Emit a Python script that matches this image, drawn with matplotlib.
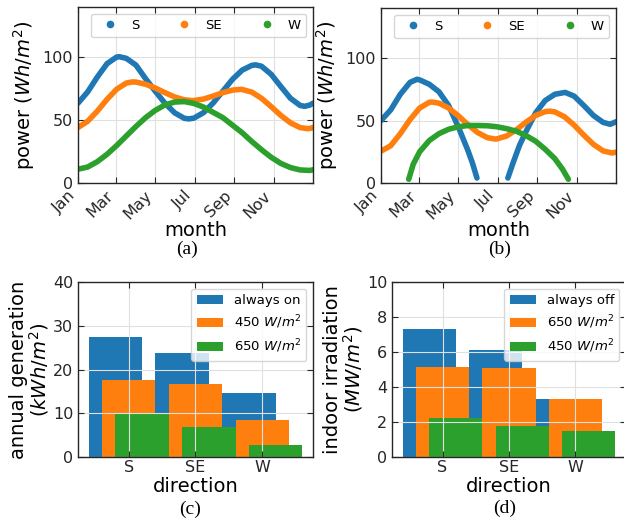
import matplotlib
matplotlib.use('Agg')
import matplotlib.pyplot as plt
from matplotlib.lines import Line2D
import numpy as np

# day of year grid for the curves
days = [0, 15, 30, 45, 60, 75, 90, 105, 120, 135, 150, 165, 180,
        195, 210, 225, 240, 255, 270, 285, 300, 315, 330, 345, 360, 365]

# (a) power per direction
a_S_days = [0, 15, 30, 45, 60, 64, 75, 90, 105, 120, 135, 150, 165, 172, 180, 195, 210,
            225, 240, 255, 270, 276, 285, 300, 315, 330, 345, 352, 360, 365]
a_S = [63.5, 72.5, 84.3, 94.9, 100.2, 100.5, 99.2, 93.8, 83.0, 73.0, 63.5, 55.9, 51.5, 51.0,
       51.6, 56.0, 63.7, 73.1, 82.5, 89.8, 93.6, 94.0, 92.9, 86.5, 76.8, 67.4, 61.7, 61.0,
       62.0, 63.5]
a_SE_days = [0, 15, 30, 45, 60, 75, 84, 90, 105, 120, 135, 150, 165, 177, 180, 195, 210,
             225, 240, 252, 255, 270, 285, 300, 315, 330, 345, 356, 360, 365]
a_SE = [44.2, 49.1, 57.2, 66.5, 74.6, 79.5, 80.4, 80.3, 78.6, 75.6, 71.9, 68.5, 66.2, 65.6,
        65.6, 66.8, 69.2, 71.9, 73.9, 74.5, 74.4, 72.3, 67.4, 60.8, 53.8, 47.9, 44.1, 43.3,
        43.4, 44.2]
a_W = [11.0, 12.7, 17.0, 22.8, 29.8, 37.4, 45.0, 52.0, 57.8, 62.1, 64.4, 64.8, 63.3,
       60.4, 56.2, 52.0, 46.0, 40.0, 33.0, 26.5, 20.5, 15.6, 12.3, 10.4, 10.0, 10.5]

# (b) power per direction (S is cut in summer, W only in the middle)
b_S_days1 = [0, 15, 30, 45, 56, 60, 75, 90, 105, 120, 135, 142, 149]
b_S_vals1 = [50.0, 58.5, 71.0, 80.5, 83.0, 82.5, 79.0, 73.0, 62.0, 45.0, 26.0, 16.0, 4.0]
b_S_days2 = [197, 205, 215, 225, 240, 255, 270, 286, 300, 315, 330, 345, 356, 365]
b_S_vals2 = [4.0, 16.0, 30.0, 41.0, 56.0, 66.0, 71.0, 72.5, 69.5, 62.0, 54.0, 48.5, 47.0, 49.0]
b_SE_days = [0, 15, 30, 45, 60, 75, 79, 90, 105, 120, 135, 150, 165, 177, 180, 195, 210,
             225, 240, 255, 262, 270, 285, 300, 315, 330, 345, 359, 365]
b_SE = [25.5, 29.8, 39.5, 50.7, 60.0, 64.6, 64.8, 63.9, 60.0, 53.8, 46.7, 40.4, 36.3, 35.2,
        35.3, 37.6, 42.5, 48.6, 54.0, 57.1, 57.5, 56.9, 53.0, 46.3, 38.3, 30.9, 25.7, 24.0,
        24.7]
b_W_days = [43, 50, 60, 75, 90, 105, 120, 135, 150, 165, 180, 195, 210, 225, 240, 255, 270, 282, 291]
b_W_vals = [3.0, 15.0, 25.0, 34.0, 39.5, 43.0, 45.0, 46.0, 46.0, 45.8, 45.0, 43.5, 41.5,
            38.0, 33.5, 27.0, 19.5, 11.0, 3.0]

month_days = [0, 59, 120, 181, 243, 304]
month_labels = ['Jan', 'Mar', 'May', 'Jul', 'Sep', 'Nov']
series_names = ['S', 'SE', 'W']

# (c) and (d) bars
directions = ['S', 'SE', 'W']
c_labels = ['always on', '450 $W/m^2$', '650 $W/m^2$']
c_vals = [[27.5, 23.8, 14.6],
          [17.5, 16.7, 8.5],
          [9.9, 6.8, 2.8]]
d_labels = ['always off', '650 $W/m^2$', '450 $W/m^2$']
d_vals = [[7.31, 6.10, 3.33],
          [5.16, 5.07, 3.30],
          [2.25, 1.79, 1.50]]

colors = ['#1f77b4', '#ff7f0e', '#2ca02c']


def style_ax(ax):
    ax.tick_params(direction='in', top=True, right=True, labelsize=11.5,
                   length=4, colors='0.15', labelcolor='0.15')
    ax.grid(True, color='0.88', lw=0.8)
    for sp in ax.spines.values():
        sp.set_color('0.15')
        sp.set_linewidth(1.0)


def line_panel(ax, series):
    for (dd, vv, col) in series:
        ax.plot(dd, vv, color=col, lw=4, solid_capstyle='round',
                solid_joinstyle='round')
    ax.set_xlim(0, 365)
    ax.set_ylim(0, 140)
    ax.set_yticks([0, 50, 100])
    ax.set_xticks(month_days)
    ax.set_xticklabels(month_labels, rotation=45, ha='right')
    ax.set_xlabel('month', fontsize=14, labelpad=-1)
    ax.set_ylabel('power ($Wh/m^2$)', fontsize=14)
    style_ax(ax)
    handles = [Line2D([], [], ls='none', marker='o', ms=4.5, color=c) for c in colors]
    ax.legend(handles, series_names, loc='upper right', ncol=3, fontsize=9.5,
              columnspacing=2.4, handletextpad=0.6, edgecolor='0.8')


def bar_panel(ax, vals, labels, ylabel, ymax, ystep):
    x = np.arange(len(directions))
    for i in range(3):
        ax.bar(x + (i - 1) * 0.2, vals[i], width=0.8, color=colors[i], label=labels[i])
    ax.set_xticks(x)
    ax.set_xticklabels(directions)
    ax.set_ylim(0, ymax)
    ax.set_yticks(np.arange(0, ymax + 0.01, ystep))
    style_ax(ax)
    ax.tick_params(axis='x', pad=2.5)
    ax.set_xlabel('direction', fontsize=14, labelpad=1)
    ax.set_ylabel(ylabel, fontsize=14, linespacing=0.95, labelpad=1.5)
    ax.legend(loc='upper right', fontsize=9.5, edgecolor='0.8')


fig = plt.figure(figsize=(6.24, 5.25), dpi=100)
ax_a = fig.add_axes([0.125, 0.6514, 0.3766, 0.3352])
ax_b = fig.add_axes([0.6106, 0.6514, 0.3766, 0.3333])
ax_c = fig.add_axes([0.125, 0.1295, 0.3766, 0.3333])
ax_d = fig.add_axes([0.6282, 0.1295, 0.375, 0.3333])

line_panel(ax_a, [(a_S_days, a_S, colors[0]),
                  (a_SE_days, a_SE, colors[1]),
                  (days, a_W, colors[2])])
line_panel(ax_b, [(b_S_days1, b_S_vals1, colors[0]),
                  (b_S_days2, b_S_vals2, colors[0]),
                  (b_SE_days, b_SE, colors[1]),
                  (b_W_days, b_W_vals, colors[2])])

bar_panel(ax_c, c_vals, c_labels, 'annual generation\n($kWh/m^2$)', 40, 10)
bar_panel(ax_d, d_vals, d_labels, 'indoor irradiation\n($MW/m^2$)', 10, 2)

cap = dict(fontsize=14, family='Liberation Serif', ha='center', va='center')
fig.text(187 / 624, 1 - 249 / 525, '(a)', **cap)
fig.text(500 / 624, 1 - 249 / 525, '(b)', **cap)
fig.text(190 / 624, 1 - 509 / 525, '(c)', **cap)
fig.text(505 / 624, 1 - 508 / 525, '(d)', **cap)

fig.savefig('out.png', dpi=100)
